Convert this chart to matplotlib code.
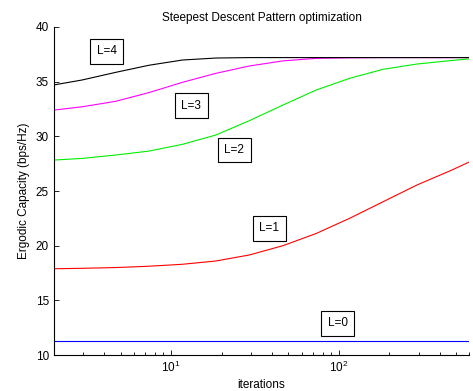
import numpy as np
import matplotlib.pyplot as plt

plt.rcParams['font.family'] = ['Liberation Sans', 'DejaVu Sans']
plt.rcParams['mathtext.fontset'] = 'custom'
plt.rcParams['mathtext.rm'] = 'Liberation Sans'

# iterations (sample points)
iters = [2, 2.94, 4.67, 7.38, 11.7, 18.5, 29.3, 46.5, 73.5, 116, 184, 292, 462, 600]

cap_L0 = [11.27] * len(iters)
cap_L1 = [17.89, 17.93, 18.0, 18.12, 18.3, 18.6, 19.15, 20.0, 21.12, 22.5, 24.02, 25.54, 26.85, 27.65]
cap_L2 = [27.83, 27.98, 28.29, 28.65, 29.27, 30.12, 31.43, 32.86, 34.24, 35.3, 36.13, 36.61, 36.92, 37.08]
cap_L3 = [32.4, 32.7, 33.2, 34.0, 34.94, 35.76, 36.43, 36.9, 37.13, 37.18, 37.2, 37.2, 37.2, 37.2]
cap_L4 = [34.7, 35.15, 35.85, 36.5, 36.98, 37.16, 37.2, 37.2, 37.2, 37.2, 37.2, 37.2, 37.2, 37.2]

labels = ['L=0', 'L=1', 'L=2', 'L=3', 'L=4']
label_x = [98.6, 38.6, 23.8, 13.2, 4.14]
label_y = [12.9, 21.6, 28.75, 32.8, 37.8]

fig = plt.figure(figsize=(4.73, 3.91), dpi=100)
ax = fig.add_axes([0.114, 0.092, 0.878, 0.839])

ax.plot(iters, cap_L0, color='blue', lw=0.8)
ax.plot(iters, cap_L1, color='red', lw=0.8)
ax.plot(iters, cap_L2, color='#00ee00', lw=0.8)
ax.plot(iters, cap_L3, color='magenta', lw=0.8)
ax.plot(iters, cap_L4, color='black', lw=0.8)

for t, xx, yy in zip(labels, label_x, label_y):
    ax.text(xx, yy, t, fontsize=8.5, ha='center', va='center',
            bbox=dict(boxstyle='square,pad=0.55', fc='white', ec='black', lw=0.8))

ax.set_xscale('log')
ax.set_xlim(2, 600)
ax.set_ylim(10, 40)
ax.set_yticks([10, 15, 20, 25, 30, 35, 40])
ax.spines['top'].set_visible(False)
ax.spines['right'].set_visible(False)
ax.tick_params(direction='in', labelsize=8.5, length=3.5, width=0.6)
ax.tick_params(which='minor', direction='in', length=2, width=0.6)

ax.set_title('Steepest Descent Pattern optimization', fontsize=8.5, pad=4)
ax.set_xlabel('iterations', fontsize=8.5, labelpad=3)
ax.set_ylabel('Ergodic Capacity (bps/Hz)', fontsize=8.5, labelpad=4)

fig.savefig('out.png', dpi=100)
